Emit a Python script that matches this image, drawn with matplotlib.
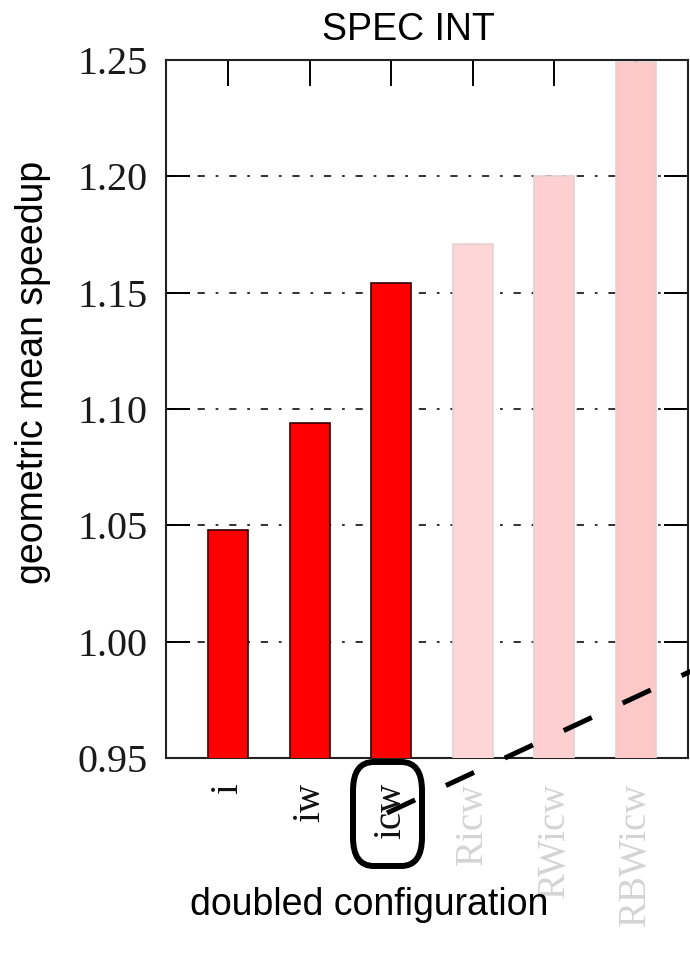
import matplotlib.pyplot as plt
from matplotlib.patches import FancyBboxPatch
from matplotlib.lines import Line2D

# geometric mean speedup per doubled configuration (SPEC INT)
configs = ["i", "iw", "icw", "Ricw", "RWicw", "RBWicw"]
speedup = [1.048, 1.094, 1.154, 1.171, 1.200, 1.249]
highlighted = [True, True, True, False, False, False]
faded_colors = ["#fdd7d7", "#fcd0d0", "#fcc8c8"]
y_ticks = [0.95, 1.00, 1.05, 1.10, 1.15, 1.20, 1.25]

W, H = 690, 957
fig = plt.figure(figsize=(W / 100, H / 100), dpi=100)
ax = fig.add_axes([166 / W, 1 - 758 / H, 522 / W, 698 / H])

x = list(range(len(configs)))
colors = []
edges = []
fi = 0
for h in highlighted:
    if h:
        colors.append("#ff0000")
        edges.append("#300000")
    else:
        colors.append(faded_colors[fi])
        edges.append("#e6d0d0")
        fi += 1

ax.bar(x, speedup, width=0.49, color=colors, edgecolor=edges, linewidth=1.2,
       zorder=3, bottom=0)

ax.set_xlim(-0.76, 5.64)
ax.set_ylim(0.95, 1.25)
ax.set_yticks(y_ticks)
ax.set_yticklabels([f"{v:.2f}" for v in y_ticks], family="Liberation Serif",
                   fontsize=29, color="#1a1a1a")

# dotted horizontal guides behind the bars
for v in y_ticks[1:-1]:
    ax.axhline(v, color="#222222", linewidth=1.3,
               linestyle=(0, (4, 6, 1.5, 6)), zorder=1)

ax.set_xticks(x)
ax.set_xticklabels(configs, rotation=90, family="Liberation Serif", fontsize=28,
                   va="top", ha="center")
for lbl, h in zip(ax.get_xticklabels(), highlighted):
    lbl.set_color("#111111" if h else "#d4d4d4")

ax.tick_params(axis="y", direction="in", length=17, width=1.4, pad=13,
               left=True, right=True)
ax.tick_params(axis="x", direction="in", length=19, width=1.4, pad=18,
               top=True, bottom=False)
for s in ax.spines.values():
    s.set_linewidth(1.5)
    s.set_color("#222222")

fig.text(408 / W, 1 - 30 / H, "SPEC INT", family="Liberation Sans",
         fontsize=27, ha="center", va="center")
fig.text(33 / W, 1 - 372 / H, "geometric mean speedup", family="Liberation Sans",
         fontsize=27, rotation=90, ha="center", va="center")
fig.text(369 / W, 1 - 905 / H, "doubled configuration", family="Liberation Sans",
         fontsize=27, ha="center", va="center")

# callout box around the "icw" label and the dashed pointer leaving it
box = FancyBboxPatch((353 / W, 1 - 866 / H), 69 / W, 104 / H,
                     boxstyle="round,pad=0,rounding_size=0.03",
                     transform=fig.transFigure, fill=False,
                     edgecolor="black", linewidth=4.3, zorder=10)
fig.patches.append(box)
pointer = Line2D([387 / W, 700 / W], [1 - 813 / H, 1 - 667 / H],
                 transform=fig.transFigure, color="black", linewidth=3.6,
                 linestyle=(0, (6.2, 6.8)), solid_capstyle="butt",
                 dash_capstyle="butt", zorder=10)
fig.lines.append(pointer)

fig.savefig("out.png", dpi=100)
